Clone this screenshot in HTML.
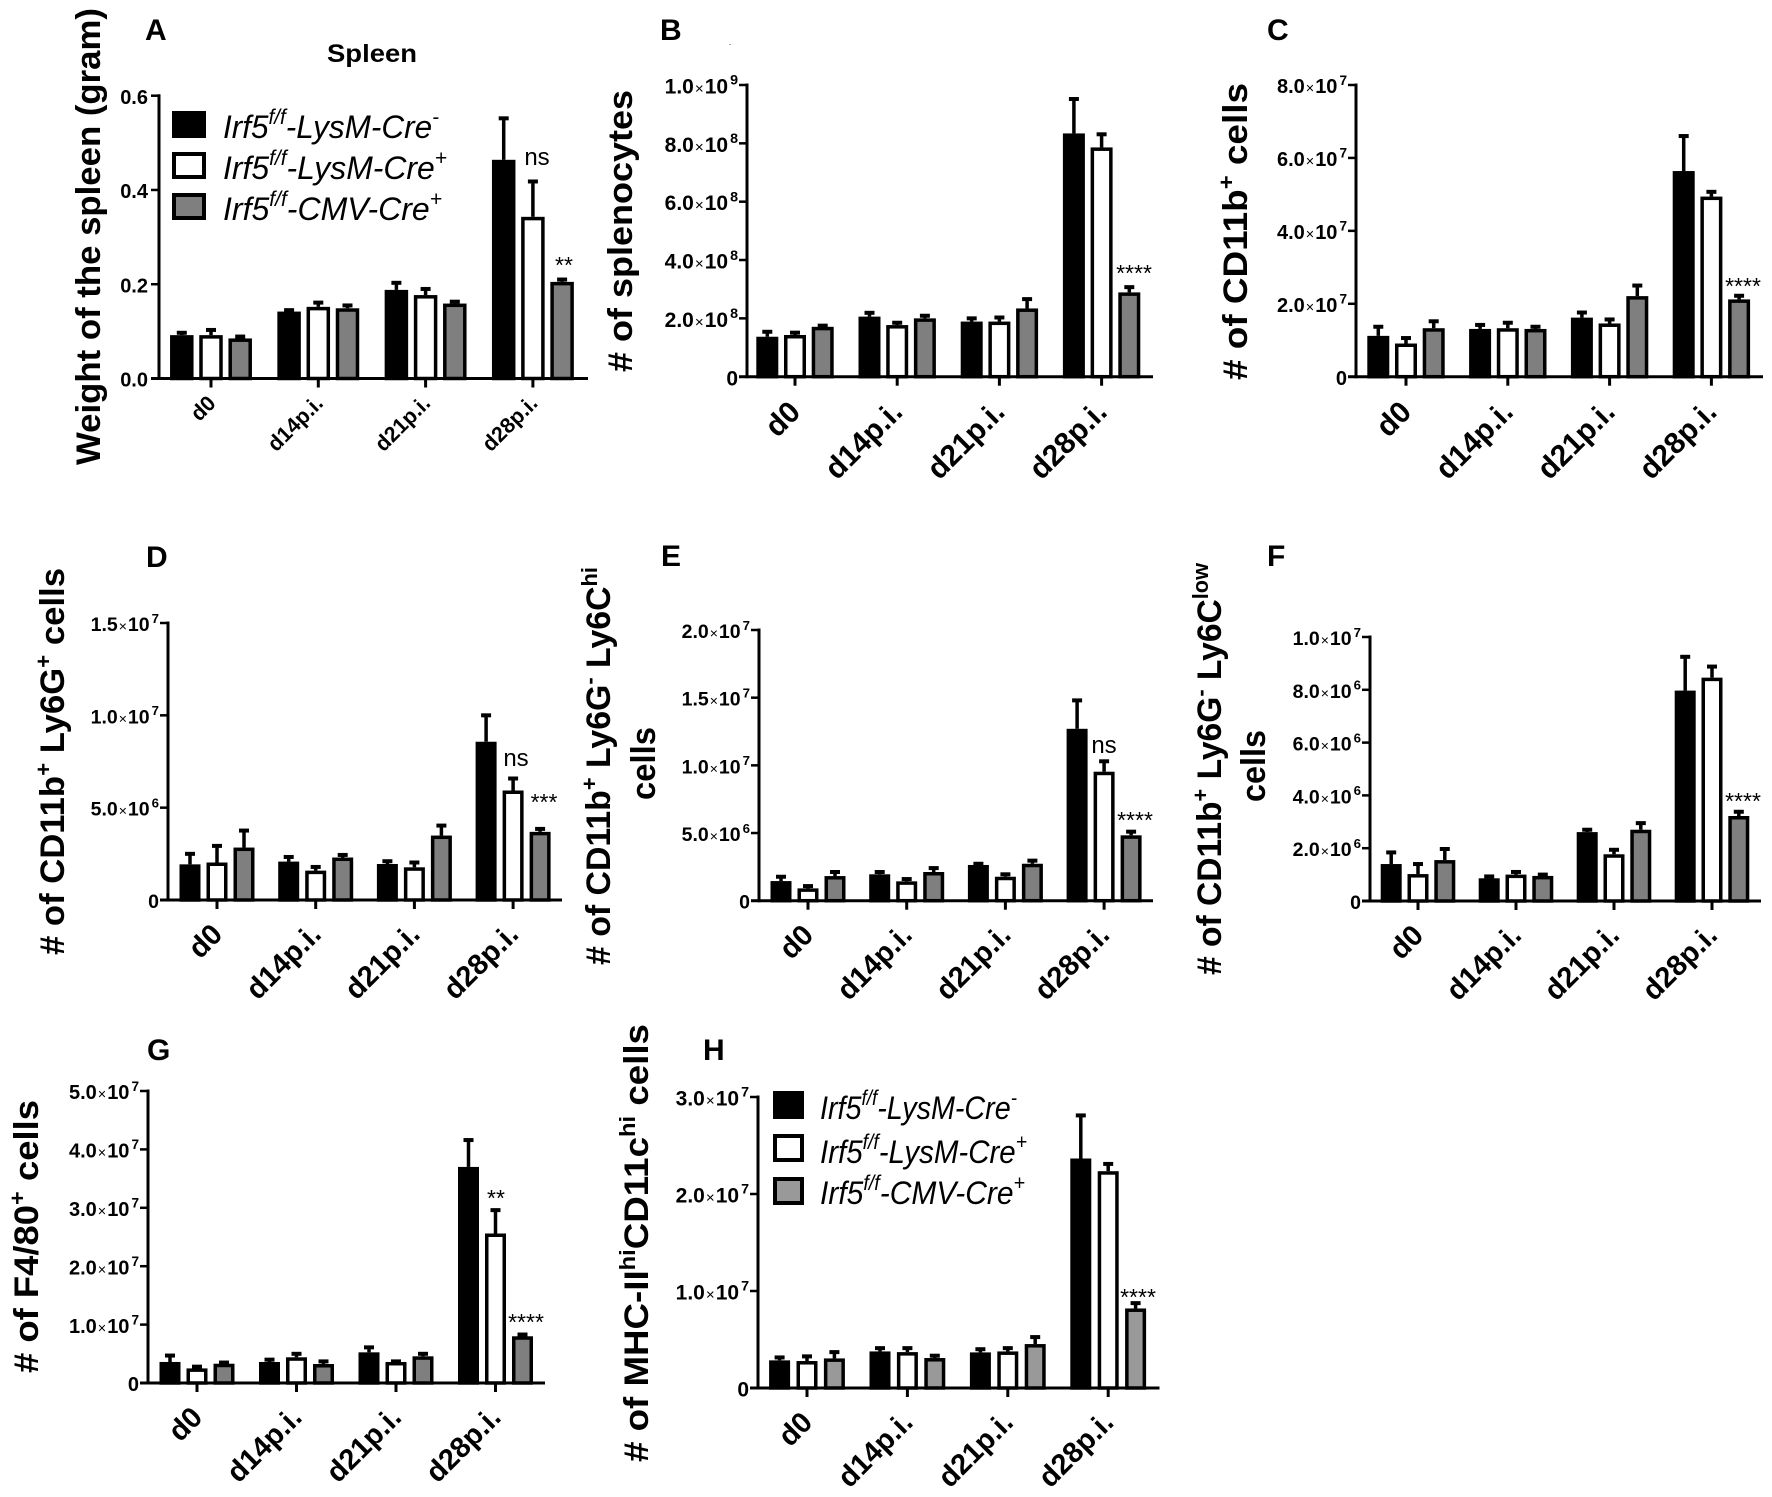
<!DOCTYPE html>
<html lang="en">
<head>
<meta charset="utf-8">
<title>Spleen cell counts by genotype and day post infection</title>
<style>
html,body{margin:0;padding:0;background:#fff;}
body{width:1772px;height:1497px;overflow:hidden;}
svg{display:block;font-family:"Liberation Sans",sans-serif;}
.letter{font-weight:700;font-size:30px;fill:#000;}
.ytitle{font-weight:700;font-size:34px;fill:#000;}
.legend-text{font-style:italic;font-size:32px;fill:#000;}
</style>
</head>
<body>
<svg id="figure" width="1772" height="1497" viewBox="0 0 1772 1497" xmlns="http://www.w3.org/2000/svg">
  <rect width="1772" height="1497" fill="#fff"/>
  <rect x="729" y="44" width="2" height="1" fill="#aaa"/>

  <text class="letter" x="145" y="40">A</text>
  <text class="letter" x="660" y="40">B</text>
  <text class="letter" x="1267" y="40">C</text>
  <text class="letter" x="146" y="567">D</text>
  <text class="letter" x="661" y="566">E</text>
  <text class="letter" x="1267" y="566">F</text>
  <text class="letter" x="147" y="1060">G</text>
  <text class="letter" x="703" y="1060">H</text>

  <text x="327" y="62" font-weight="700" font-size="25" textLength="90" lengthAdjust="spacingAndGlyphs">Spleen</text>

  <g>
    <text class="ytitle" transform="translate(100,465) rotate(-90)" textLength="457" lengthAdjust="spacingAndGlyphs">Weight of the spleen (gram)</text>
    <text class="ytitle" transform="translate(632,372) rotate(-90)" textLength="282" lengthAdjust="spacingAndGlyphs"># of splenocytes</text>
    <text class="ytitle" transform="translate(1247,380) rotate(-90)" textLength="297" lengthAdjust="spacingAndGlyphs"># of CD11b<tspan font-size="22" dy="-13">+</tspan><tspan dy="13"> cells</tspan></text>
    <text class="ytitle" transform="translate(64,955) rotate(-90)" textLength="387" lengthAdjust="spacingAndGlyphs"># of CD11b<tspan font-size="22" dy="-13">+</tspan><tspan dy="13"> Ly6G</tspan><tspan font-size="22" dy="-13">+</tspan><tspan dy="13"> cells</tspan></text>
    <text class="ytitle" transform="translate(610,965) rotate(-90)" textLength="398" lengthAdjust="spacingAndGlyphs"># of CD11b<tspan font-size="22" dy="-13">+</tspan><tspan dy="13"> Ly6G</tspan><tspan font-size="22" dy="-13">-</tspan><tspan dy="13"> Ly6C</tspan><tspan font-size="22" dy="-13">hi</tspan></text>
    <text class="ytitle" transform="translate(655,800) rotate(-90)" textLength="73" lengthAdjust="spacingAndGlyphs">cells</text>
    <text class="ytitle" transform="translate(1221,975) rotate(-90)" textLength="412" lengthAdjust="spacingAndGlyphs"># of CD11b<tspan font-size="22" dy="-13">+</tspan><tspan dy="13"> Ly6G</tspan><tspan font-size="22" dy="-13">-</tspan><tspan dy="13"> Ly6C</tspan><tspan font-size="22" dy="-13">low</tspan></text>
    <text class="ytitle" transform="translate(1265,802) rotate(-90)" textLength="72" lengthAdjust="spacingAndGlyphs">cells</text>
    <text class="ytitle" transform="translate(38,1373) rotate(-90)" textLength="273" lengthAdjust="spacingAndGlyphs"># of F4/80<tspan font-size="22" dy="-13">+</tspan><tspan dy="13"> cells</tspan></text>
    <text class="ytitle" transform="translate(648,1462) rotate(-90)" textLength="438" lengthAdjust="spacingAndGlyphs"># of MHC-II<tspan font-size="22" dy="-13">hi</tspan><tspan dy="13">CD11c</tspan><tspan font-size="22" dy="-13">hi</tspan><tspan dy="13"> cells</tspan></text>
  </g>

  <g id="charts"></g>

  <g>
    <rect x="172" y="111" width="34" height="27" fill="#000"/>
    <rect x="174" y="154" width="30" height="23" fill="#fff" stroke="#000" stroke-width="4"/>
    <rect x="174" y="195" width="30" height="23" fill="#7f7f7f" stroke="#000" stroke-width="4"/>
    <text class="legend-text" x="223" y="138" textLength="216" lengthAdjust="spacingAndGlyphs">Irf5<tspan font-size="21" dy="-14">f/f</tspan><tspan dy="14">-LysM-Cre</tspan><tspan font-size="21" dy="-14">-</tspan></text>
    <text class="legend-text" x="223" y="179" textLength="224" lengthAdjust="spacingAndGlyphs">Irf5<tspan font-size="21" dy="-14">f/f</tspan><tspan dy="14">-LysM-Cre</tspan><tspan font-size="21" dy="-14">+</tspan></text>
    <text class="legend-text" x="223" y="220" textLength="219" lengthAdjust="spacingAndGlyphs">Irf5<tspan font-size="21" dy="-14">f/f</tspan><tspan dy="14">-CMV-Cre</tspan><tspan font-size="21" dy="-14">+</tspan></text>
  </g>

  <g>
    <rect x="773" y="1091" width="31" height="28" fill="#000"/>
    <rect x="775" y="1136" width="27" height="24" fill="#fff" stroke="#000" stroke-width="4"/>
    <rect x="775" y="1179" width="27" height="24" fill="#999" stroke="#000" stroke-width="4"/>
    <text class="legend-text" x="820" y="1119" textLength="197" lengthAdjust="spacingAndGlyphs">Irf5<tspan font-size="21" dy="-14">f/f</tspan><tspan dy="14">-LysM-Cre</tspan><tspan font-size="21" dy="-14">-</tspan></text>
    <text class="legend-text" x="820" y="1163" textLength="207" lengthAdjust="spacingAndGlyphs">Irf5<tspan font-size="21" dy="-14">f/f</tspan><tspan dy="14">-LysM-Cre</tspan><tspan font-size="21" dy="-14">+</tspan></text>
    <text class="legend-text" x="820" y="1204" textLength="205" lengthAdjust="spacingAndGlyphs">Irf5<tspan font-size="21" dy="-14">f/f</tspan><tspan dy="14">-CMV-Cre</tspan><tspan font-size="21" dy="-14">+</tspan></text>
  </g>
</svg>

<script>
const categories = ['d0', 'd14p.i.', 'd21p.i.', 'd28p.i.'];
const seriesNames = ['lysm-cre-neg', 'lysm-cre-pos', 'cmv-cre-pos'];

/* Panel A: grams */
const aMeanNeg = [0.092, 0.142, 0.188, 0.464];
const aMeanPos = [0.092, 0.152, 0.177, 0.343];
const aMeanCmv = [0.085, 0.149, 0.159, 0.205];
const aErrNeg = [0.005, 0.003, 0.015, 0.088];
const aErrPos = [0.011, 0.009, 0.013, 0.075];
const aErrCmv = [0.004, 0.006, 0.004, 0.005];
const aTickValues = [0, 0.2, 0.4, 0.6];
const aTickLabels = ['0.0', '0.2', '0.4', '0.6'];

/* Panel B: x 10^8 */
const bMeanNeg = [1.37, 2.06, 1.89, 8.34];
const bMeanPos = [1.43, 1.77, 1.89, 7.86];
const bMeanCmv = [1.71, 2.0, 2.34, 2.89];
const bErrNeg = [0.17, 0.13, 0.11, 1.18];
const bErrPos = [0.08, 0.08, 0.14, 0.45];
const bErrCmv = [0.04, 0.09, 0.32, 0.18];
const bTickValues = [0, 2, 4, 6, 8, 10];
const bTickLabels = ['0', '2.0×10^8', '4.0×10^8', '6.0×10^8', '8.0×10^8', '1.0×10^9'];

/* Panel C: x 10^7 */
const cMeanNeg = [1.12, 1.31, 1.62, 5.64];
const cMeanPos = [0.91, 1.33, 1.46, 4.94];
const cMeanCmv = [1.33, 1.31, 2.21, 2.12];
const cErrNeg = [0.25, 0.11, 0.14, 0.96];
const cErrPos = [0.15, 0.15, 0.11, 0.13];
const cErrCmv = [0.19, 0.06, 0.29, 0.10];
const cTickValues = [0, 2, 4, 6, 8];
const cTickLabels = ['0', '2.0×10^7', '4.0×10^7', '6.0×10^7', '8.0×10^7'];

/* Panel D: x 10^6 */
const dMeanNeg = [1.93, 2.08, 1.95, 8.57];
const dMeanPos = [2.03, 1.59, 1.77, 5.93];
const dMeanCmv = [2.84, 2.3, 3.49, 3.69];
const dErrNeg = [0.57, 0.25, 0.15, 1.43];
const dErrPos = [0.90, 0.20, 0.26, 0.65];
const dErrCmv = [0.92, 0.14, 0.54, 0.16];
const dTickValues = [0, 5, 10, 15];
const dTickLabels = ['0', '5.0×10^6', '1.0×10^7', '1.5×10^7'];

/* Panel E: x 10^6 */
const eMeanNeg = [1.45, 1.95, 2.64, 12.7];
const eMeanPos = [0.91, 1.43, 1.77, 9.53];
const eMeanCmv = [1.82, 2.12, 2.73, 4.83];
const eErrNeg = [0.32, 0.17, 0.09, 2.1];
const eErrPos = [0.17, 0.17, 0.18, 0.77];
const eErrCmv = [0.30, 0.29, 0.23, 0.27];
const eTickValues = [0, 5, 10, 15, 20];
const eTickLabels = ['0', '5.0×10^6', '1.0×10^7', '1.5×10^7', '2.0×10^7'];

/* Panel F: x 10^6 */
const fMeanNeg = [1.4, 0.86, 2.61, 7.97];
const fMeanPos = [1.02, 1.0, 1.77, 8.46];
const fMeanCmv = [1.55, 0.95, 2.7, 3.22];
const fErrNeg = [0.44, 0.07, 0.09, 1.28];
const fErrPos = [0.38, 0.10, 0.17, 0.42];
const fErrCmv = [0.42, 0.05, 0.25, 0.16];
const fTickValues = [0, 2, 4, 6, 8, 10];
const fTickLabels = ['0', '2.0×10^6', '4.0×10^6', '6.0×10^6', '8.0×10^6', '1.0×10^7'];

/* Panel G: x 10^7 */
const gMeanNeg = [0.36, 0.36, 0.525, 3.7];
const gMeanPos = [0.25, 0.44, 0.36, 2.56];
const gMeanCmv = [0.33, 0.325, 0.457, 0.80];
const gErrNeg = [0.11, 0.04, 0.085, 0.46];
const gErrPos = [0.03, 0.06, 0.01, 0.40];
const gErrCmv = [0.02, 0.045, 0.043, 0.03];
const gTickValues = [0, 1, 2, 3, 4, 5];
const gTickLabels = ['0', '1.0×10^7', '2.0×10^7', '3.0×10^7', '4.0×10^7', '5.0×10^7'];

/* Panel H: x 10^7 */
const hMeanNeg = [0.285, 0.377, 0.367, 2.366];
const hMeanPos = [0.278, 0.37, 0.377, 2.235];
const hMeanCmv = [0.305, 0.309, 0.453, 0.82];
const hErrNeg = [0.03, 0.034, 0.033, 0.444];
const hErrPos = [0.048, 0.041, 0.034, 0.075];
const hErrCmv = [0.065, 0.024, 0.072, 0.055];
const hTickValues = [0, 1, 2, 3];
const hTickLabels = ['0', '1.0×10^7', '2.0×10^7', '3.0×10^7'];

const NS = 'http://www.w3.org/2000/svg';
const root = document.getElementById('charts');

function mk(tag, attrs, parent) {
  const el = document.createElementNS(NS, tag);
  for (const k in attrs) el.setAttribute(k, attrs[k]);
  parent.appendChild(el);
  return el;
}

function drawTickLabel(parent, label, x, y, size, id) {
  const t = mk('text', {x: x, y: y + size * 0.36, 'text-anchor': 'end', 'font-weight': 700, 'font-size': size, fill: '#000'}, parent);
  
  
  const m = label.match(/^([\d.]+)×10\^(\d+)$/);
  if (!m) { t.textContent = label; return; }
  const a = mk('tspan', {}, t);
  a.textContent = m[1];
  const b = mk('tspan', {'font-size': size * 0.72, 'font-weight': 400, dx: 1}, t);
  b.textContent = '×';
  const c = mk('tspan', {dx: 1}, t);
  c.textContent = '10';
  const d = mk('tspan', {'font-size': size * 0.68, dy: -size * 0.42, dx: 2}, t);
  d.textContent = m[2];
}

function drawPanel(p) {
  const g = mk('g', {}, root);
  
  

  const yScale = v => p.bottom - (v / p.yMax) * (p.bottom - p.top);
  const xCenter = i => p.tick0 + p.step * i;
  const xBar = (i, s) => xCenter(i) + (s - 1) * p.off;

  const sw = p.sw || 3.5;
  p.means.forEach((series, s) => {
    series.forEach((v, i) => {
      const cx = xBar(i, s);
      const yTop = yScale(v);
      const yErr = yScale(v + p.errs[s][i]);
      const stem = mk('line', {x1: cx, x2: cx, y1: yTop, y2: yErr, stroke: '#000', 'stroke-width': 3.5}, g);
      
      
      const cap = mk('line', {x1: cx - 5, x2: cx + 5, y1: yErr, y2: yErr, stroke: '#000', 'stroke-width': 4}, g);
      
      
      const fill = s === 0 ? '#000' : s === 1 ? '#fff' : p.gray;
      const bar = mk('rect', {x: cx - p.barW / 2 + sw / 2, y: yTop + sw / 2, width: p.barW - sw, height: Math.max(0, p.bottom - yTop - sw / 2), fill: fill, stroke: '#000', 'stroke-width': sw}, g);
      
      
    });
  });

  const yAxis = mk('line', {x1: p.axisX, x2: p.axisX, y1: p.top - 1.5, y2: p.bottom + 1.5, stroke: '#000', 'stroke-width': 3}, g);
  
  
  const xAxis = mk('line', {x1: p.axisX - 8, x2: p.right, y1: p.bottom, y2: p.bottom, stroke: '#000', 'stroke-width': 3}, g);
  
  

  p.ticks.forEach((v, i) => {
    const y = yScale(v);
    const tk = mk('line', {x1: p.axisX - 8, x2: p.axisX, y1: y, y2: y, stroke: '#000', 'stroke-width': 2.5}, g);
    
    
    drawTickLabel(g, p.tickLabels[i], p.axisX - p.labelGap, y + 1, p.tickSize, p.id + '-' + i);
  });

  categories.forEach((c, i) => {
    const x = xCenter(i);
    const tk = mk('line', {x1: x, x2: x, y1: p.bottom, y2: p.bottom + 9, stroke: '#000', 'stroke-width': 3}, g);
    
    
    const ax = x + p.xlDx, ay = p.bottom + p.xlDy;
    const t = mk('text', {transform: 'translate(' + ax + ',' + ay + ') rotate(-45)', 'text-anchor': 'end', 'font-weight': 700, 'font-size': p.xlSize, fill: '#000'}, g);
    
    
    t.textContent = c;
  });

  p.notes.forEach((n, i) => {
    const t = mk('text', {x: n.x, y: n.y, 'text-anchor': 'middle', 'font-size': n.text === 'ns' ? 24 : 23, fill: '#000'}, g);
    
    
    t.textContent = n.text;
  });
}

drawPanel({id: 'a', axisX: 159, top: 95.7, bottom: 378.5, right: 588, tick0: 211, step: 107.3, off: 29.2, barW: 23.5, yMax: 0.6, gray: '#7f7f7f',
  means: [aMeanNeg, aMeanPos, aMeanCmv], errs: [aErrNeg, aErrPos, aErrCmv], ticks: aTickValues, tickLabels: aTickLabels,
  tickSize: 20, labelGap: 11, xlSize: 21.5, xlDx: 6, xlDy: 26,
  notes: [{x: 537, y: 165, text: 'ns'}, {x: 564, y: 273, text: '**'}]});
drawPanel({id: 'b', axisX: 747, top: 85, bottom: 376.7, right: 1153, tick0: 795, step: 102.2, off: 27.7, barW: 22, yMax: 10, gray: '#7f7f7f',
  means: [bMeanNeg, bMeanPos, bMeanCmv], errs: [bErrNeg, bErrPos, bErrCmv], ticks: bTickValues, tickLabels: bTickLabels,
  tickSize: 21, labelGap: 9, xlSize: 30, xlDx: 7, xlDy: 37,
  notes: [{x: 1134, y: 281, text: '****'}]});
drawPanel({id: 'c', axisX: 1356, top: 85, bottom: 376.7, right: 1763, tick0: 1406, step: 101.8, off: 27.7, barW: 22, yMax: 8, gray: '#7f7f7f',
  means: [cMeanNeg, cMeanPos, cMeanCmv], errs: [cErrNeg, cErrPos, cErrCmv], ticks: cTickValues, tickLabels: cTickLabels,
  tickSize: 20, labelGap: 9, xlSize: 30, xlDx: 7, xlDy: 37,
  notes: [{x: 1743, y: 294, text: '****'}]});
drawPanel({id: 'd', axisX: 168, top: 623, bottom: 900, right: 562, tick0: 217, step: 98.7, off: 27, barW: 21, yMax: 15, gray: '#7f7f7f',
  means: [dMeanNeg, dMeanPos, dMeanCmv], errs: [dErrNeg, dErrPos, dErrCmv], ticks: dTickValues, tickLabels: dTickLabels,
  tickSize: 19.5, labelGap: 9, xlSize: 29, xlDx: 7, xlDy: 36,
  notes: [{x: 516, y: 766, text: 'ns'}, {x: 544, y: 810, text: '***'}]});
drawPanel({id: 'e', axisX: 759, top: 630, bottom: 900.7, right: 1153, tick0: 808, step: 98.7, off: 27, barW: 21, yMax: 20, gray: '#7f7f7f',
  means: [eMeanNeg, eMeanPos, eMeanCmv], errs: [eErrNeg, eErrPos, eErrCmv], ticks: eTickValues, tickLabels: eTickLabels,
  tickSize: 19.5, labelGap: 9, xlSize: 29, xlDx: 7, xlDy: 36,
  notes: [{x: 1104, y: 753, text: 'ns'}, {x: 1135, y: 828, text: '****'}]});
drawPanel({id: 'f', axisX: 1370, top: 637, bottom: 901, right: 1761, tick0: 1418, step: 98, off: 26.8, barW: 21, yMax: 10, gray: '#7f7f7f',
  means: [fMeanNeg, fMeanPos, fMeanCmv], errs: [fErrNeg, fErrPos, fErrCmv], ticks: fTickValues, tickLabels: fTickLabels,
  tickSize: 19.5, labelGap: 9, xlSize: 29, xlDx: 7, xlDy: 36,
  notes: [{x: 1743, y: 809, text: '****'}]});
drawPanel({id: 'g', axisX: 148, top: 1091, bottom: 1383, right: 545, tick0: 197, step: 99.5, off: 27, barW: 21, yMax: 5, gray: '#7f7f7f',
  means: [gMeanNeg, gMeanPos, gMeanCmv], errs: [gErrNeg, gErrPos, gErrCmv], ticks: gTickValues, tickLabels: gTickLabels,
  tickSize: 20, labelGap: 9, xlSize: 29, xlDx: 7, xlDy: 36,
  notes: [{x: 496, y: 1206, text: '**'}, {x: 526, y: 1330, text: '****'}]});
drawPanel({id: 'h', axisX: 758, top: 1097, bottom: 1388, right: 1159.5, tick0: 807, step: 100.4, off: 27.4, barW: 21, yMax: 3, gray: '#999',
  means: [hMeanNeg, hMeanPos, hMeanCmv], errs: [hErrNeg, hErrPos, hErrCmv], ticks: hTickValues, tickLabels: hTickLabels,
  tickSize: 21, labelGap: 9, xlSize: 29, xlDx: 7, xlDy: 36,
  notes: [{x: 1138, y: 1305, text: '****'}]});
</script>
</body>
</html>
